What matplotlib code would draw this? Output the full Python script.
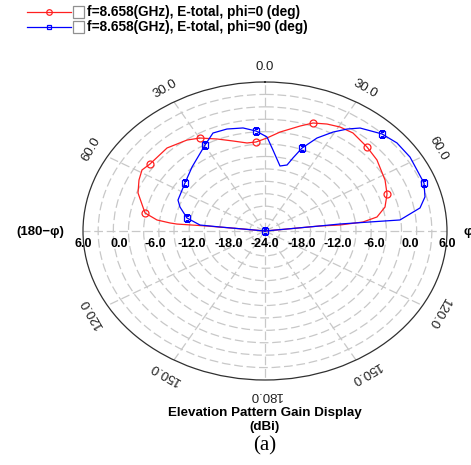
import numpy as np
import matplotlib.pyplot as plt
from matplotlib.lines import Line2D
from matplotlib.patches import Rectangle

plt.rcParams['font.family'] = ['Liberation Sans', 'DejaVu Sans']

# phi=0 cut (red), theta in deg (clockwise from top), gain in dBi
th_phi0 = [-90, -83.7, -84.0, -84.5, -84.1, -82.9, -79.6, -69.9, -63.7, -58.8, -54.6,
           -44.0, -35.1, -29.8, -23.1, -16.2, -9.5, -4.7, 1.0, 7.1, 15.3, 20.0, 25.4,
           30.6, 36.3, 44.8, 52.2, 62.6, 69.7, 76.3, 81.3, 83.6, 84.4, 83.6, 83.7, 90]
g_phi0 = [-24, -20.35, -14.4, -9.42, -8.26, -6.06, -3.89, -1.71, -0.83, -0.29, -0.73,
          -0.76, -1.62, -2.43, -3.86, -5.13, -6.03, -6.02, -5.27, -3.92, -2.09, -0.86, -0.16,
          0.32, 0.49, -0.15, -0.65, -1.71, -2.55, -3.64, -5.32, -7.75, -11.58, -14.88, -20.35, -24]
mk_th_phi0 = [-79.6, -54.6, -29.8, -4.7, 20.0, 44.8, 69.7]
mk_g_phi0 = [-3.89, -0.73, -2.43, -6.02, -0.86, -0.15, -2.55]

# phi=90 cut (blue)
th_phi90 = [-90, -83.7, -83.8, -83.6, -78.5, -71.0, -66.5, -53.8, -43.0, -29.7, -23.5,
            -17.0, -9.9, -4.2, 1.0, 4.6, 10.7, 15.3, 17.4, 20.1, 24.6, 29.4, 33.4, 37.1,
            44.6, 50.8, 58.1, 63.9, 69.8, 75.4, 79.7, 84.3, 84.0, 83.5, 83.6, 83.7, 90]
g_phi90 = [-24, -20.35, -16.54, -13.22, -10.88, -9.18, -8.36, -7.65, -6.37, -4.06, -2.49,
           -2.53, -2.94, -3.81, -5.07, -7.64, -10.68, -10.22, -8.59, -6.21, -3.41, -1.13, 0.59, 1.99,
           3.45, 4.06, 4.16, 3.90, 3.93, 3.25, 1.97, -1.64, -6.60, -11.56, -14.88, -20.35, -24]
mk_th_phi90 = [-78.5, -53.8, -29.7, -4.2, 20.1, 44.6, 69.8, 180]
mk_g_phi90 = [-10.88, -7.65, -4.06, -3.81, -6.21, 3.45, 3.93, -24]

r_labels = ['6.0', '0.0', '-6.0', '-12.0', '-18.0']
r_vals = [6, 0, -6, -12, -18]
ang_vals = [0, 30, 60, 120, 150, 180]
rings = np.arange(-21.5, 6, 2.5)

W, H = 471, 465
fig = plt.figure(figsize=(W / 100, H / 100), dpi=100)
ax = fig.add_axes([83 / W, 1 - 380 / H, 364 / W, 298 / H], projection='polar')
ax.set_aspect('auto')
ax.set_theta_zero_location('N')
ax.set_theta_direction(-1)
ax.set_rlim(-24, 6)
ax.set_rticks(rings)
ax.set_yticklabels([])
ax.set_thetagrids(np.arange(0, 360, 30), labels=[])
ax.grid(True, color='#c8c8c8', linestyle=(0, (7, 3)), linewidth=0.9)
ax.spines['polar'].set_color('#303030')
ax.spines['polar'].set_linewidth(0.9)
ax.tick_params(length=0)

red = '#ff2020'
blue = '#0000ff'
ax.plot(np.deg2rad(th_phi0), g_phi0, color=red, lw=0.9)
ax.plot(np.deg2rad(mk_th_phi0), mk_g_phi0, ls='none', marker='o', ms=5, mfc='none', mec=red, mew=0.9)
ax.plot(np.deg2rad(th_phi90), g_phi90, color=blue, lw=0.9)
ax.plot(np.deg2rad(mk_th_phi90), mk_g_phi90, ls='none', marker='s', ms=4.5, mfc='none', mec=blue, mew=0.9)

# angle labels
for a in ang_vals:
    for s in ([1] if a in (0, 180) else [-1, 1]):
        t = s * a
        rot = -t if s > 0 else a
        if a == 180:
            rot = 180
        ax.text(np.deg2rad(t), 9, '%.1f' % a, rotation=rot, ha='center', va='center',
                rotation_mode='anchor', fontsize=9.5, color='#202020', clip_on=False)

# radial labels along horizontal
for v, lab in zip(r_vals, r_labels):
    for s in (-1, 1):
        ax.annotate(lab, (np.deg2rad(s * 90), v), xytext=(0, -13), textcoords='offset pixels',
                    ha='center', va='center', fontsize=9, fontweight='bold', annotation_clip=False)
ax.annotate('-24.0', (0, -24), xytext=(0, -13), textcoords='offset pixels',
            ha='center', va='center', fontsize=9, fontweight='bold', annotation_clip=False)

fig.text(40 / W, 1 - 232 / H, '(180\u2212\u03c6)', ha='center', va='center', fontsize=9.5, fontweight='bold')
fig.text(463 / W, 1 - 232 / H, '\u03c6', ha='left', va='center', fontsize=9.5, fontweight='bold')

# legend
leg = [(red, 'o', 'f=8.658(GHz), E-total, phi=0 (deg)', 12),
       (blue, 's', 'f=8.658(GHz), E-total, phi=90 (deg)', 27)]
for c, m, txt, y in leg:
    fy = 1 - y / H
    fig.add_artist(Line2D([27 / W, 71 / W], [fy, fy], color=c, lw=0.9))
    fig.add_artist(Line2D([49 / W], [fy], color=c, marker=m, ms=4 if m == 'o' else 3.5,
                          mfc='none', mec=c, mew=0.9))
    fig.add_artist(Rectangle((73 / W, fy - 6 / H), 11 / W, 12 / H, transform=fig.transFigure,
                             fc='white', ec='#909090', lw=0.9))
    fig.text(87 / W, fy, txt, ha='left', va='center', fontsize=9.8, fontweight='bold')

fig.text(265 / W, 1 - 413 / H, 'Elevation Pattern Gain Display', ha='center', va='center',
         fontsize=9.6, fontweight='bold')
fig.text(265 / W, 1 - 427 / H, '(dBi)', ha='center', va='center', fontsize=9.6, fontweight='bold')
fig.text(265 / W, 1 - 446 / H, '(a)', ha='center', va='center', fontsize=15,
         family='Liberation Serif')

fig.savefig('out.png', dpi=100)
